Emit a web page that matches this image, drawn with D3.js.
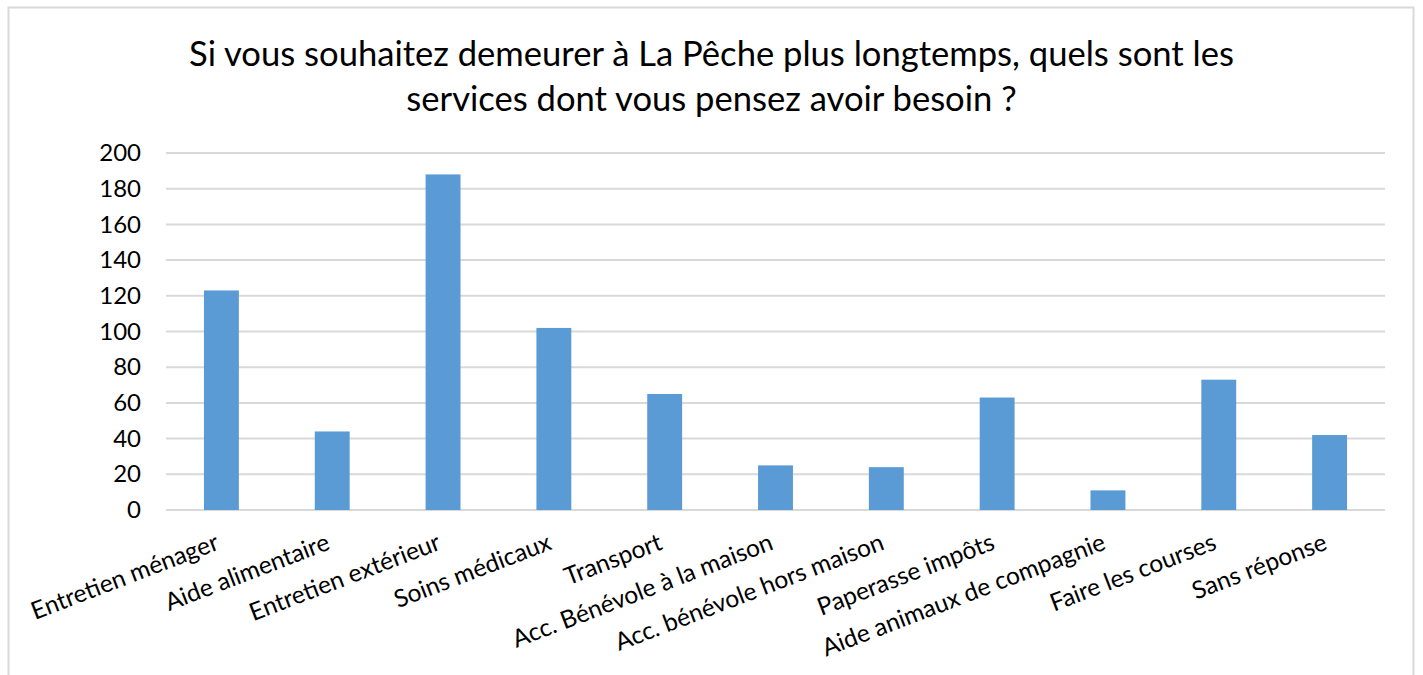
<!DOCTYPE html>
<html>
<head>
<meta charset="utf-8">
<script src="https://cdn.jsdelivr.net/npm/d3@7"></script>
<style>
  html, body { margin: 0; padding: 0; background: #fff; }
  svg { display: block; font-family: Lato, "Open Sans", sans-serif; }
</style>
</head>
<body>
<div id="chart"></div>
<script>
const categories = [
  'Entretien ménager', 'Aide alimentaire', 'Entretien extérieur', 'Soins médicaux',
  'Transport', 'Acc. Bénévole à la maison', 'Acc. bénévole hors maison',
  'Paperasse impôts', 'Aide animaux de compagnie', 'Faire les courses', 'Sans réponse'
]
const values = [123, 44, 188, 102, 65, 25, 24, 63, 11, 73, 42]
const yTicks = [0, 20, 40, 60, 80, 100, 120, 140, 160, 180, 200]
const titleLines = [
  'Si vous souhaitez demeurer à La Pêche plus longtemps, quels sont les',
  'services dont vous pensez avoir besoin ?'
]

;(() => {
  const width = 1423
  const height = 675
  const margin = { top: 153, right: 38, bottom: 165, left: 166 }
  const innerWidth = width - margin.left - margin.right
  const innerHeight = height - margin.top - margin.bottom

  const svg = d3.select('#chart')
    .append('svg')
      .attr('width', width)
      .attr('height', height)

  // chart frame
  svg.append('rect')
    .attr('x', 8.5)
    .attr('y', 7.5)
    .attr('width', 1405)
    .attr('height', 700)
    .attr('fill', 'none')
    .attr('stroke', '#d9d9d9')
    .attr('stroke-width', 2)

  svg.append('g')
    .selectAll('text')
    .data(titleLines)
    .join('text')
      .attr('x', width / 2)
      .attr('y', (d, i) => 66 + i * 45)
      .attr('text-anchor', 'middle')
      .attr('font-size', 34.6)
      .attr('fill', '#000')
      .text(d => d)

  const g = svg.append('g')
    .attr('transform', `translate(${margin.left},${margin.top})`)

  const xScale = d3.scaleBand()
    .domain(categories)
    .range([0, innerWidth])
    .paddingInner(0.685)
    .paddingOuter(0.3425)

  const yScale = d3.scaleLinear()
    .domain([0, 200])
    .range([innerHeight, 0])

  // gridlines
  g.append('g')
    .selectAll('line')
    .data(yTicks)
    .join('line')
      .attr('x1', 0)
      .attr('x2', innerWidth)
      .attr('y1', d => yScale(d))
      .attr('y2', d => yScale(d))
      .attr('stroke', '#d9d9d9')
      .attr('stroke-width', 2)

  const yAxis = g.append('g')
    .call(d3.axisLeft(yScale).tickValues(yTicks).tickSize(0).tickPadding(25))
  yAxis.select('.domain').remove()
  yAxis.selectAll('text')
    .attr('font-family', 'Lato, "Open Sans", sans-serif')
    .attr('font-size', 24)
    .attr('fill', '#000')

  g.append('g')
    .selectAll('rect')
    .data(values)
    .join('rect')
      .attr('x', (d, i) => xScale(categories[i]))
      .attr('y', d => yScale(d))
      .attr('width', xScale.bandwidth())
      .attr('height', d => innerHeight - yScale(d))
      .attr('fill', '#5b9bd5')

  const xAxis = g.append('g')
    .attr('transform', `translate(0,${innerHeight})`)
    .call(d3.axisBottom(xScale).tickSize(0))
  xAxis.select('.domain').remove()
  xAxis.selectAll('text')
    .attr('font-family', 'Lato, "Open Sans", sans-serif')
    .attr('font-size', 24.5)
    .attr('fill', '#000')
    .attr('text-anchor', 'end')
    .attr('dy', 0)
    .attr('transform', 'translate(-2,36) rotate(-21)')
})()
</script>
</body>
</html>
